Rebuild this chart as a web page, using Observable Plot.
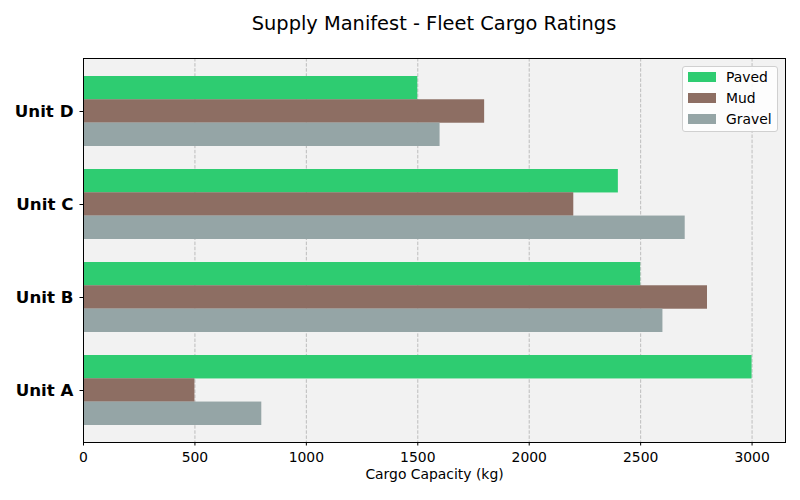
<!DOCTYPE html>
<html>
<head>
<meta charset="utf-8">
<script src="https://cdn.jsdelivr.net/npm/d3@7"></script>
<script src="https://cdn.jsdelivr.net/npm/@observablehq/plot@0.6"></script>
<style>
  html, body { margin: 0; padding: 0; background: #fff; }
  #chart { position: relative; width: 800px; height: 500px; font-family: "DejaVu Sans", sans-serif; }
  #title { height: 40px; box-sizing: border-box; padding-top: 11px; padding-left: 68px; text-align: center; font-size: 19.4px; line-height: 26px; color: #000; }
  #legend { position: absolute; left: 682px; top: 66px; width: 96px; height: 66px; box-sizing: border-box;
            background: rgba(255,255,255,0.85); border: 1px solid #d0d0d0; border-radius: 3px; }
  .row { position: absolute; left: 5px; height: 21px; display: flex; align-items: center; font-size: 13.9px; color: #000; }
  .sw { width: 28px; height: 10px; margin-right: 10px; }
</style>
</head>
<body>
<div id="chart">
  <div id="title">Supply Manifest - Fleet Cargo Ratings</div>
  <div id="legend"></div>
</div>
<script>
// Fleet units and their cargo ratings on each surface (kg)
const units = ["Unit A", "Unit B", "Unit C", "Unit D"];
const series = ["Paved", "Mud", "Gravel"];
const paved = [3000, 2500, 2400, 1500];
const mud = [500, 2800, 2200, 1800];
const gravel = [800, 2600, 2700, 1600];
const colors = ["#2ecc71", "#8d6e63", "#95a5a6"];
const xTicks = [0, 500, 1000, 1500, 2000, 2500, 3000];

const values = [paved, mud, gravel];
const rows = [];
series.forEach((s, i) => units.forEach((u, j) => rows.push({unit: u, surface: s, kg: values[i][j]})));

// Layout of the plotting area
const W = 800, H = 460;
const mTop = 18, mBottom = 58, mLeft = 83, mRight = 15;
const padInner = 0.25, padOuter = 0.1875;
const innerH = H - mTop - mBottom;
const step = innerH / (units.length - padInner + 2 * padOuter);
const bw = step * (1 - padInner);
const slot = bw / series.length;

// One bar mark per surface, each taking its own slice of the unit's band
const bars = series.map((s, i) =>
  Plot.barX(rows.filter(d => d.surface === s), {
    x: "kg",
    y: "unit",
    fill: colors[i],
    insetTop: i * slot,
    insetBottom: (series.length - 1 - i) * slot
  })
);

const chart = Plot.plot({
  width: W,
  height: H,
  marginTop: mTop,
  marginBottom: mBottom,
  marginLeft: mLeft,
  marginRight: mRight,
  style: {background: "transparent", fontFamily: "DejaVu Sans, sans-serif", color: "#000"},
  x: {domain: [0, 3150]},
  y: {domain: units.slice().reverse(), paddingInner: padInner, paddingOuter: padOuter},
  marks: [
    Plot.frame({fill: "#f2f2f2", stroke: null}),
    Plot.ruleX(xTicks, {stroke: "#b0b0b0", strokeWidth: 0.8, strokeDasharray: "3.5,1.6"}),
    ...bars,
    Plot.frame({stroke: "#000", strokeWidth: 1}),
    Plot.axisX({ticks: xTicks, tickSize: 3.5, tickPadding: 6, fontSize: 13.9, label: null, tickFormat: d3.format("d")}),
    Plot.axisY({tickSize: 3.5, tickPadding: 6.5, fontSize: 16.7, fontWeight: "bold", label: null}),
    Plot.text(["Cargo Capacity (kg)"], {frameAnchor: "bottom", dy: 36, fontSize: 13.9, fill: "#000"})
  ]
});
document.getElementById("chart").appendChild(chart);

// Legend, drawn from the same series and colours
const legend = document.getElementById("legend");
series.forEach((s, i) => {
  const row = document.createElement("div");
  row.className = "row";
  row.style.top = (i * 21 - 1) + "px";
  const sw = document.createElement("div");
  sw.className = "sw";
  sw.style.background = colors[i];
  row.appendChild(sw);
  row.appendChild(document.createTextNode(s));
  legend.appendChild(row);
});
</script>
</body>
</html>
